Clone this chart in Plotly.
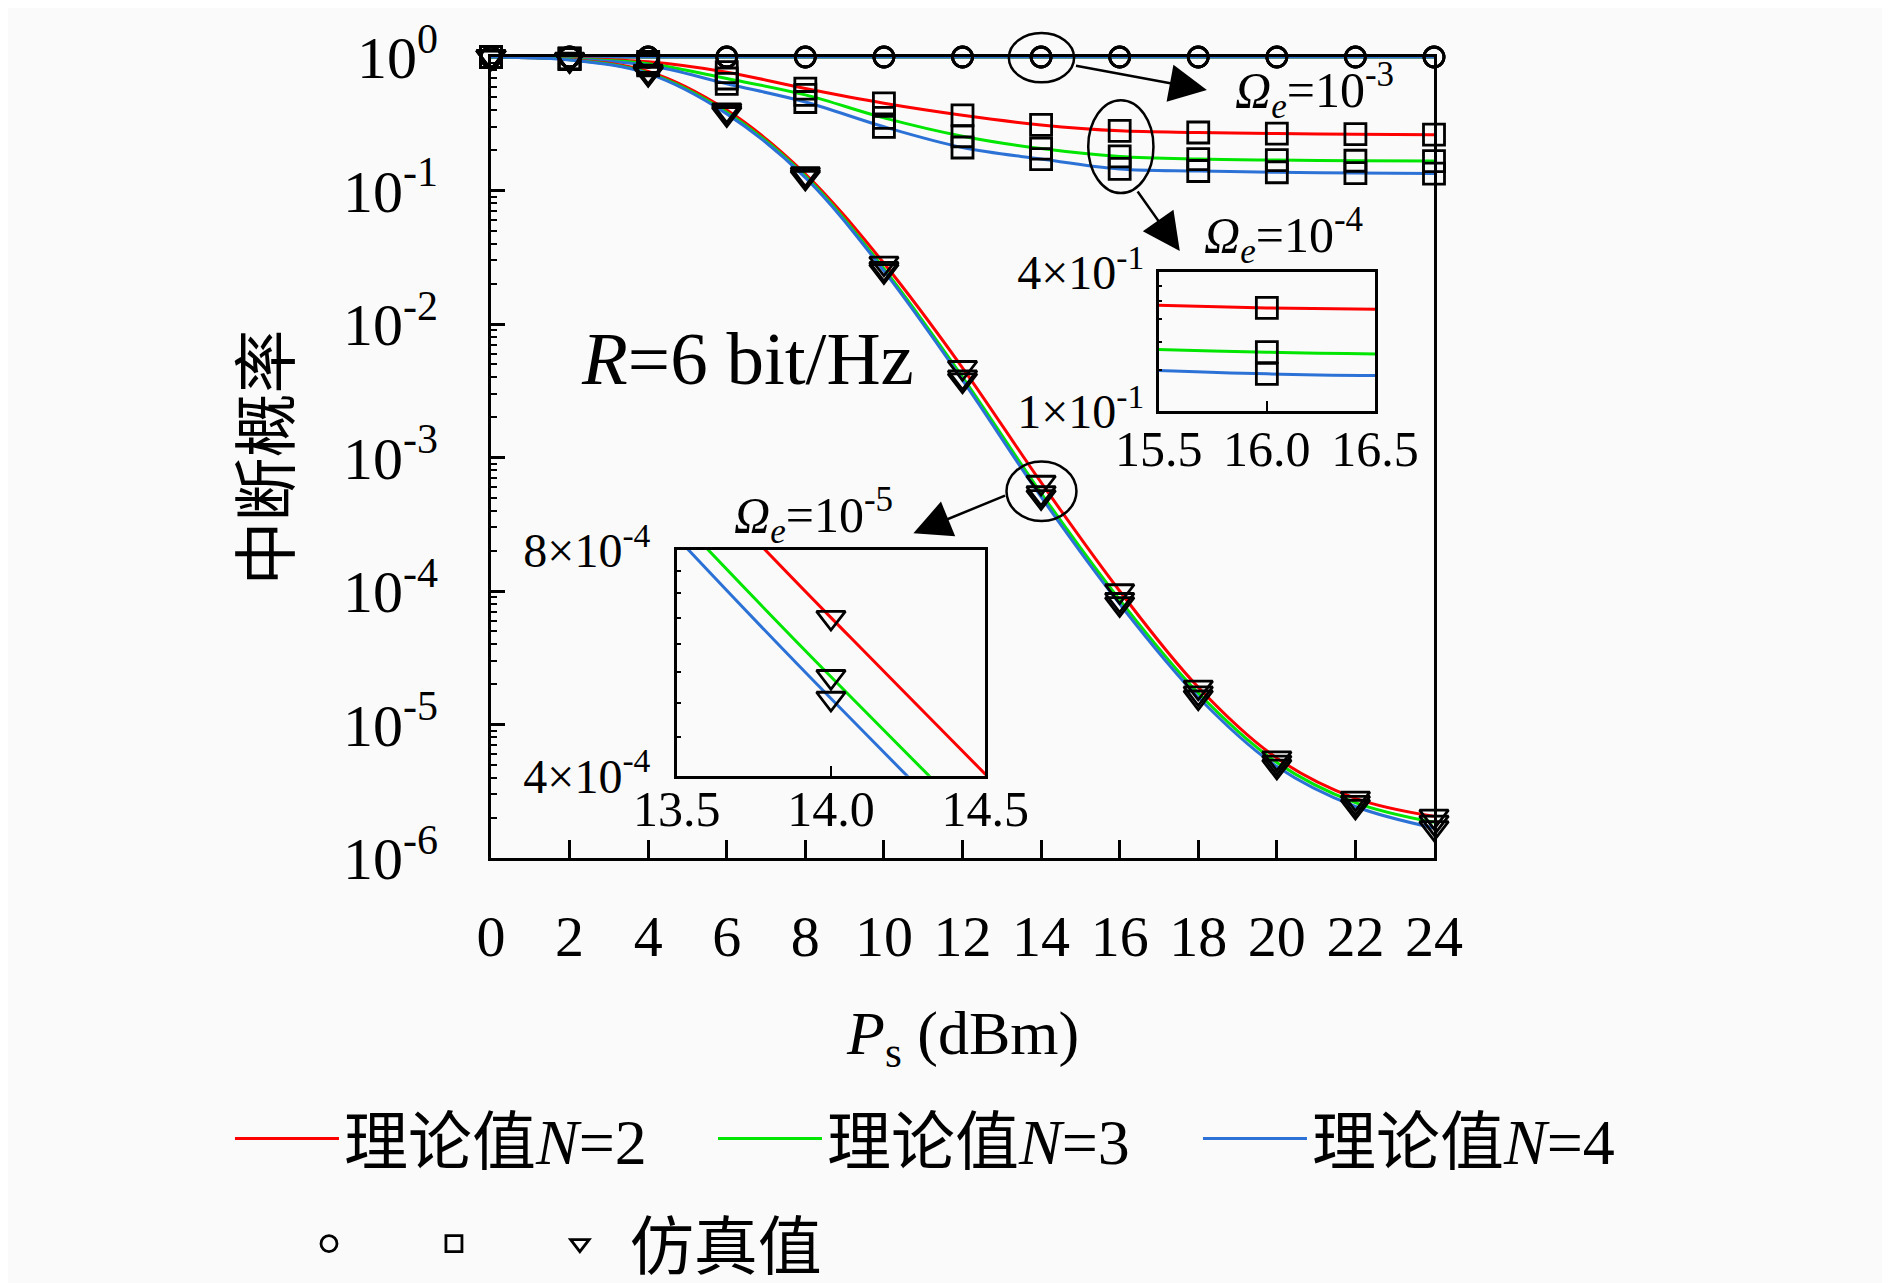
import math
import plotly.graph_objects as go

# %% data (x in dBm, y = outage probability)

ps = [0, 2, 4, 6, 8, 10, 12, 14, 16, 18, 20, 22, 24]

# Omega_e = 1e-3 : everything sits at 1
out_e3_n2 = [1.0, 1.0, 1.0, 1.0, 1.0, 1.0, 1.0, 1.0, 1.0, 1.0, 1.0, 1.0, 1.0]
out_e3_n3 = [1.0, 1.0, 1.0, 1.0, 1.0, 1.0, 1.0, 1.0, 1.0, 1.0, 1.0, 1.0, 1.0]
out_e3_n4 = [1.0, 1.0, 1.0, 1.0, 1.0, 1.0, 1.0, 1.0, 1.0, 1.0, 1.0, 1.0, 1.0]

# Omega_e = 1e-4
out_e4_n2 = [1.0, 0.975, 0.92, 0.77, 0.58, 0.45, 0.366, 0.31, 0.28, 0.272, 0.267, 0.264, 0.262]
out_e4_n3 = [1.0, 0.97, 0.89, 0.69, 0.52, 0.35, 0.255, 0.206, 0.18, 0.172, 0.169, 0.167, 0.166]
out_e4_n4 = [1.0, 0.965, 0.866, 0.63, 0.46, 0.30, 0.21, 0.172, 0.145, 0.14, 0.137, 0.135, 0.134]

# Omega_e = 1e-5
out_e5_n2 = [1.0, 0.96, 0.78, 0.40, 0.133, 0.0285, 0.0047, 6.5e-4, 1.0e-4, 1.9e-5, 5.6e-6, 2.8e-6, 2.05e-6]
out_e5_n3 = [1.0, 0.955, 0.76, 0.385, 0.128, 0.026, 0.0040, 5.42e-4, 8.6e-5, 1.72e-5, 5.2e-6, 2.6e-6, 1.85e-6]
out_e5_n4 = [1.0, 0.95, 0.75, 0.375, 0.125, 0.025, 0.0038, 5.07e-4, 8.0e-5, 1.6e-5, 4.85e-6, 2.43e-6, 1.68e-6]

y_ticks = [1e-6, 1e-5, 1e-4, 1e-3, 1e-2, 1e-1, 1]
y_ticktext = ["10<sup>-6</sup>", "10<sup>-5</sup>", "10<sup>-4</sup>", "10<sup>-3</sup>",
              "10<sup>-2</sup>", "10<sup>-1</sup>", "10<sup>0</sup>"]
x_ticks = [0, 2, 4, 6, 8, 10, 12, 14, 16, 18, 20, 22, 24]

legend_names = ["理论值<i>N</i>=2", "理论值<i>N</i>=3", "理论值<i>N</i>=4"]
sim_names = [" ", " ", "仿真值"]
colors = ["#ff0000", "#00e600", "#2c72d6"]

# %% figure

SERIF = "Liberation Serif, Noto Sans CJK SC"
fig = go.Figure()

groups = [
    ([out_e3_n2, out_e3_n3, out_e3_n4], "circle-open", 20),
    ([out_e4_n2, out_e4_n3, out_e4_n4], "square-open", 21),
    ([out_e5_n2, out_e5_n3, out_e5_n4], "triangle-down-open", 25),
]
line_legends = ["legend", "legend2", "legend3"]
mark_legends = ["legend4", "legend5", "legend6"]

# theory curves, main axes
for gi, (curves, _, _) in enumerate(groups):
    for i, ys in enumerate(curves):
        fig.add_trace(go.Scatter(
            x=ps, y=ys, mode="lines", line=dict(color=colors[i], width=3, shape="spline"),
            name=legend_names[i], showlegend=(gi == 0), legend=line_legends[i]))

# simulation markers, main axes
for gi, (curves, sym, size) in enumerate(groups):
    for i, ys in enumerate(curves):
        fig.add_trace(go.Scatter(
            x=ps, y=ys, mode="markers", cliponaxis=False,
            marker=dict(symbol=sym, size=size, color="black", line=dict(width=2.8)),
            name=sim_names[gi], showlegend=(i == 0), legend=mark_legends[gi]))

# inset 1 : Omega_e = 1e-4 around 16 dBm
for i, ys in enumerate(groups[1][0]):
    fig.add_trace(go.Scatter(x=ps, y=ys, mode="lines", xaxis="x2", yaxis="y2",
                             line=dict(color=colors[i], width=3, shape="spline"), showlegend=False))
    fig.add_trace(go.Scatter(x=ps, y=ys, mode="markers", xaxis="x2", yaxis="y2",
                             marker=dict(symbol="square-open", size=21, color="black", line=dict(width=2.8)),
                             showlegend=False))

# inset 2 : Omega_e = 1e-5 around 14 dBm
for i, ys in enumerate(groups[2][0]):
    fig.add_trace(go.Scatter(x=ps, y=ys, mode="lines", xaxis="x3", yaxis="y3",
                             line=dict(color=colors[i], width=3, shape="spline"), showlegend=False))
    fig.add_trace(go.Scatter(x=ps, y=ys, mode="markers", xaxis="x3", yaxis="y3",
                             marker=dict(symbol="triangle-down-open", size=25, color="black", line=dict(width=2.8)),
                             showlegend=False))

axis_common = dict(showline=True, linecolor="black", mirror=True, showgrid=False,
                   zeroline=False, ticks="inside", tickcolor="black")

legend_common = dict(orientation="h", xanchor="left", yanchor="middle",
                     font=dict(size=64, family=SERIF), bgcolor="rgba(0,0,0,0)")

fig.update_layout(
    width=1882, height=1275,
    margin=dict(l=483, r=456, t=49, b=425, autoexpand=False),
    paper_bgcolor="#fafafa", plot_bgcolor="#fafafa",
    font=dict(family=SERIF, color="black"),
    xaxis=dict(axis_common, domain=[0, 1], range=[0, 24], tickvals=x_ticks,
               linewidth=3, ticklen=18, tickwidth=2.5, ticklabelstandoff=25,
               tickfont=dict(size=58)),
    yaxis=dict(axis_common, domain=[0, 1], type="log", range=[-6, 0],
               tickvals=y_ticks, ticktext=y_ticktext, linewidth=3,
               ticklen=14, tickwidth=2.5, ticklabelstandoff=38, tickfont=dict(size=60),
               minor=dict(ticks="inside", ticklen=6, tickwidth=2, tickcolor="black",
                          tickvals=[k * 10 ** e for e in range(-6, 0) for k in range(2, 10)])),
    xaxis2=dict(axis_common, domain=[0.708, 0.9375], anchor="y2", range=[15.5, 16.5],
                tickvals=[15.5, 16.0, 16.5], ticktext=["15.5", "16.0", "16.5"],
                linewidth=2.5, ticklen=10, tickwidth=2, ticklabelstandoff=-8,
                tickfont=dict(size=50)),
    yaxis2=dict(axis_common, domain=[0.558, 0.7314], anchor="x2", type="log",
                range=[math.log10(0.1), math.log10(0.4)], tickvals=[0.1, 0.4],
                ticktext=["1×10<sup>-1</sup>", "4×10<sup>-1</sup>"], linewidth=2.5,
                ticklen=0, ticklabelstandoff=2, tickfont=dict(size=48),
                minor=dict(ticks="inside", ticklen=4, tickwidth=2, tickcolor="black",
                           tickvals=[0.15, 0.2, 0.25, 0.3, 0.35])),
    xaxis3=dict(axis_common, domain=[0.197, 0.524], anchor="y3", range=[13.5, 14.5],
                tickvals=[13.5, 14.0, 14.5], ticktext=["13.5", "14.0", "14.5"],
                linewidth=2.5, ticklen=10, tickwidth=2, ticklabelstandoff=-12,
                tickfont=dict(size=50)),
    yaxis3=dict(axis_common, domain=[0.1027, 0.3846], anchor="x3", type="log",
                range=[math.log10(4e-4), math.log10(8e-4)], tickvals=[4e-4, 8e-4],
                ticktext=["4×10<sup>-4</sup>", "8×10<sup>-4</sup>"], linewidth=2.5,
                ticklen=0, ticklabelstandoff=14, tickfont=dict(size=48),
                minor=dict(ticks="inside", ticklen=4, tickwidth=2, tickcolor="black",
                           tickvals=[4.5e-4, 5e-4, 5.5e-4, 6e-4, 6.5e-4, 7e-4, 7.5e-4])),
    legend=dict(legend_common, x=-0.2768, y=-0.3508, itemwidth=104),
    legend2=dict(legend_common, x=0.2354, y=-0.3508, itemwidth=104),
    legend3=dict(legend_common, x=0.7497, y=-0.3508, itemwidth=104),
    legend4=dict(legend_common, x=-0.193, y=-0.482, itemwidth=30),
    legend5=dict(legend_common, x=-0.0605, y=-0.482, itemwidth=30),
    legend6=dict(legend_common, x=0.0412, y=-0.482, itemwidth=90),
)


def py(lg):
    # log10 value -> paper y of the main axes
    return (lg + 6) / 6


# ellipses around the zoomed points
ellipses = [(13.18, 14.84, -0.19, 0.18), (15.2, 16.86, -1.019, -0.324), (13.12, 14.9, -3.475, -3.03)]
for x0, x1, l0, l1 in ellipses:
    fig.add_shape(type="circle", xref="x", yref="paper", x0=x0, x1=x1, y0=py(l0), y1=py(l1),
                  line=dict(color="black", width=2.5))

# arrows (head at x,y ; tail at ax,ay), y in log10 units
arrows = [(18.22, -0.248, 14.85, -0.064), (17.53, -1.454, 16.43, -0.996), (10.75, -3.567, 13.12, -3.281)]
for hx, hy, tx, ty in arrows:
    fig.add_annotation(x=hx, y=hy, ax=tx, ay=ty, xref="x", yref="y", axref="x", ayref="y",
                       text="", showarrow=True, arrowhead=2, arrowsize=3, arrowwidth=2.5,
                       arrowcolor="black", standoff=0)

labels = [
    (20.97, -0.252, "<i>Ω</i><sub><i>e</i></sub>=10<sup>-3</sup>", 50),
    (20.17, -1.335, "<i>Ω</i><sub><i>e</i></sub>=10<sup>-4</sup>", 50),
    (8.21, -3.437, "<i>Ω</i><sub><i>e</i></sub>=10<sup>-5</sup>", 50),
    (6.52, -2.255, "<i>R</i>=6 bit/Hz", 75),
]
for lx, ly, txt, sz in labels:
    fig.add_annotation(x=lx, y=ly, xref="x", yref="y", text=txt, showarrow=False,
                       font=dict(size=sz, family=SERIF))

# axis titles
fig.add_annotation(x=0.4995, y=-0.2235, xref="paper", yref="paper", showarrow=False,
                   xanchor="center", yanchor="middle",
                   text="<i>P</i><sub>s</sub> (dBm)", font=dict(size=62, family=SERIF))
fig.add_annotation(x=-0.2365, y=0.5, xref="paper", yref="paper", showarrow=False,
                   xanchor="center", yanchor="middle",
                   text="中断概率", textangle=-90, font=dict(size=64, family=SERIF))

fig.write_html("out.html")
